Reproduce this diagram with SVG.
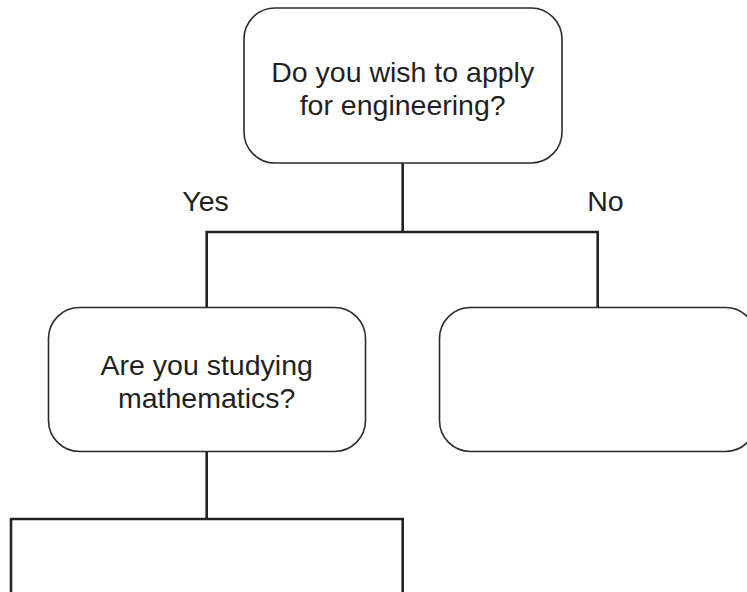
<svg xmlns="http://www.w3.org/2000/svg" width="747" height="592" viewBox="0 0 747 592">
<style>
.box{fill:#fff;stroke:#2b2b2b;stroke-width:1.6}
.conn{fill:none;stroke:#222;stroke-width:2.6}
text{font-family:"Liberation Sans",Arial,sans-serif;font-size:28.5px;fill:#231f20;text-anchor:middle}
</style>
<rect width="747" height="592" fill="#fff"/>
<g id="connectors">
<path class="conn" d="M402.7,163 V232 M206.7,307.5 V232 H597.7 V307.5"/>
<path class="conn" d="M206.7,451.5 V519 M11,592 V519 H402.7 V592"/>
</g>
<g id="label-yes"><text x="205.5" y="211">Yes</text></g>
<g id="label-no"><text x="605.5" y="211">No</text></g>
<g id="node-engineering">
<rect class="box" x="244" y="8" width="318" height="155" rx="31" ry="31"/>
<text x="402.7" y="81.5">Do you wish to apply</text>
<text x="402.7" y="115">for engineering?</text>
</g>
<g id="node-mathematics">
<rect class="box" x="48.5" y="307.5" width="317" height="144" rx="31" ry="31"/>
<text x="206.7" y="375">Are you studying</text>
<text x="206.7" y="407.5">mathematics?</text>
</g>
<g id="node-no">
<rect class="box" x="439.5" y="307.5" width="317" height="144" rx="31" ry="31"/>
</g>
</svg>
